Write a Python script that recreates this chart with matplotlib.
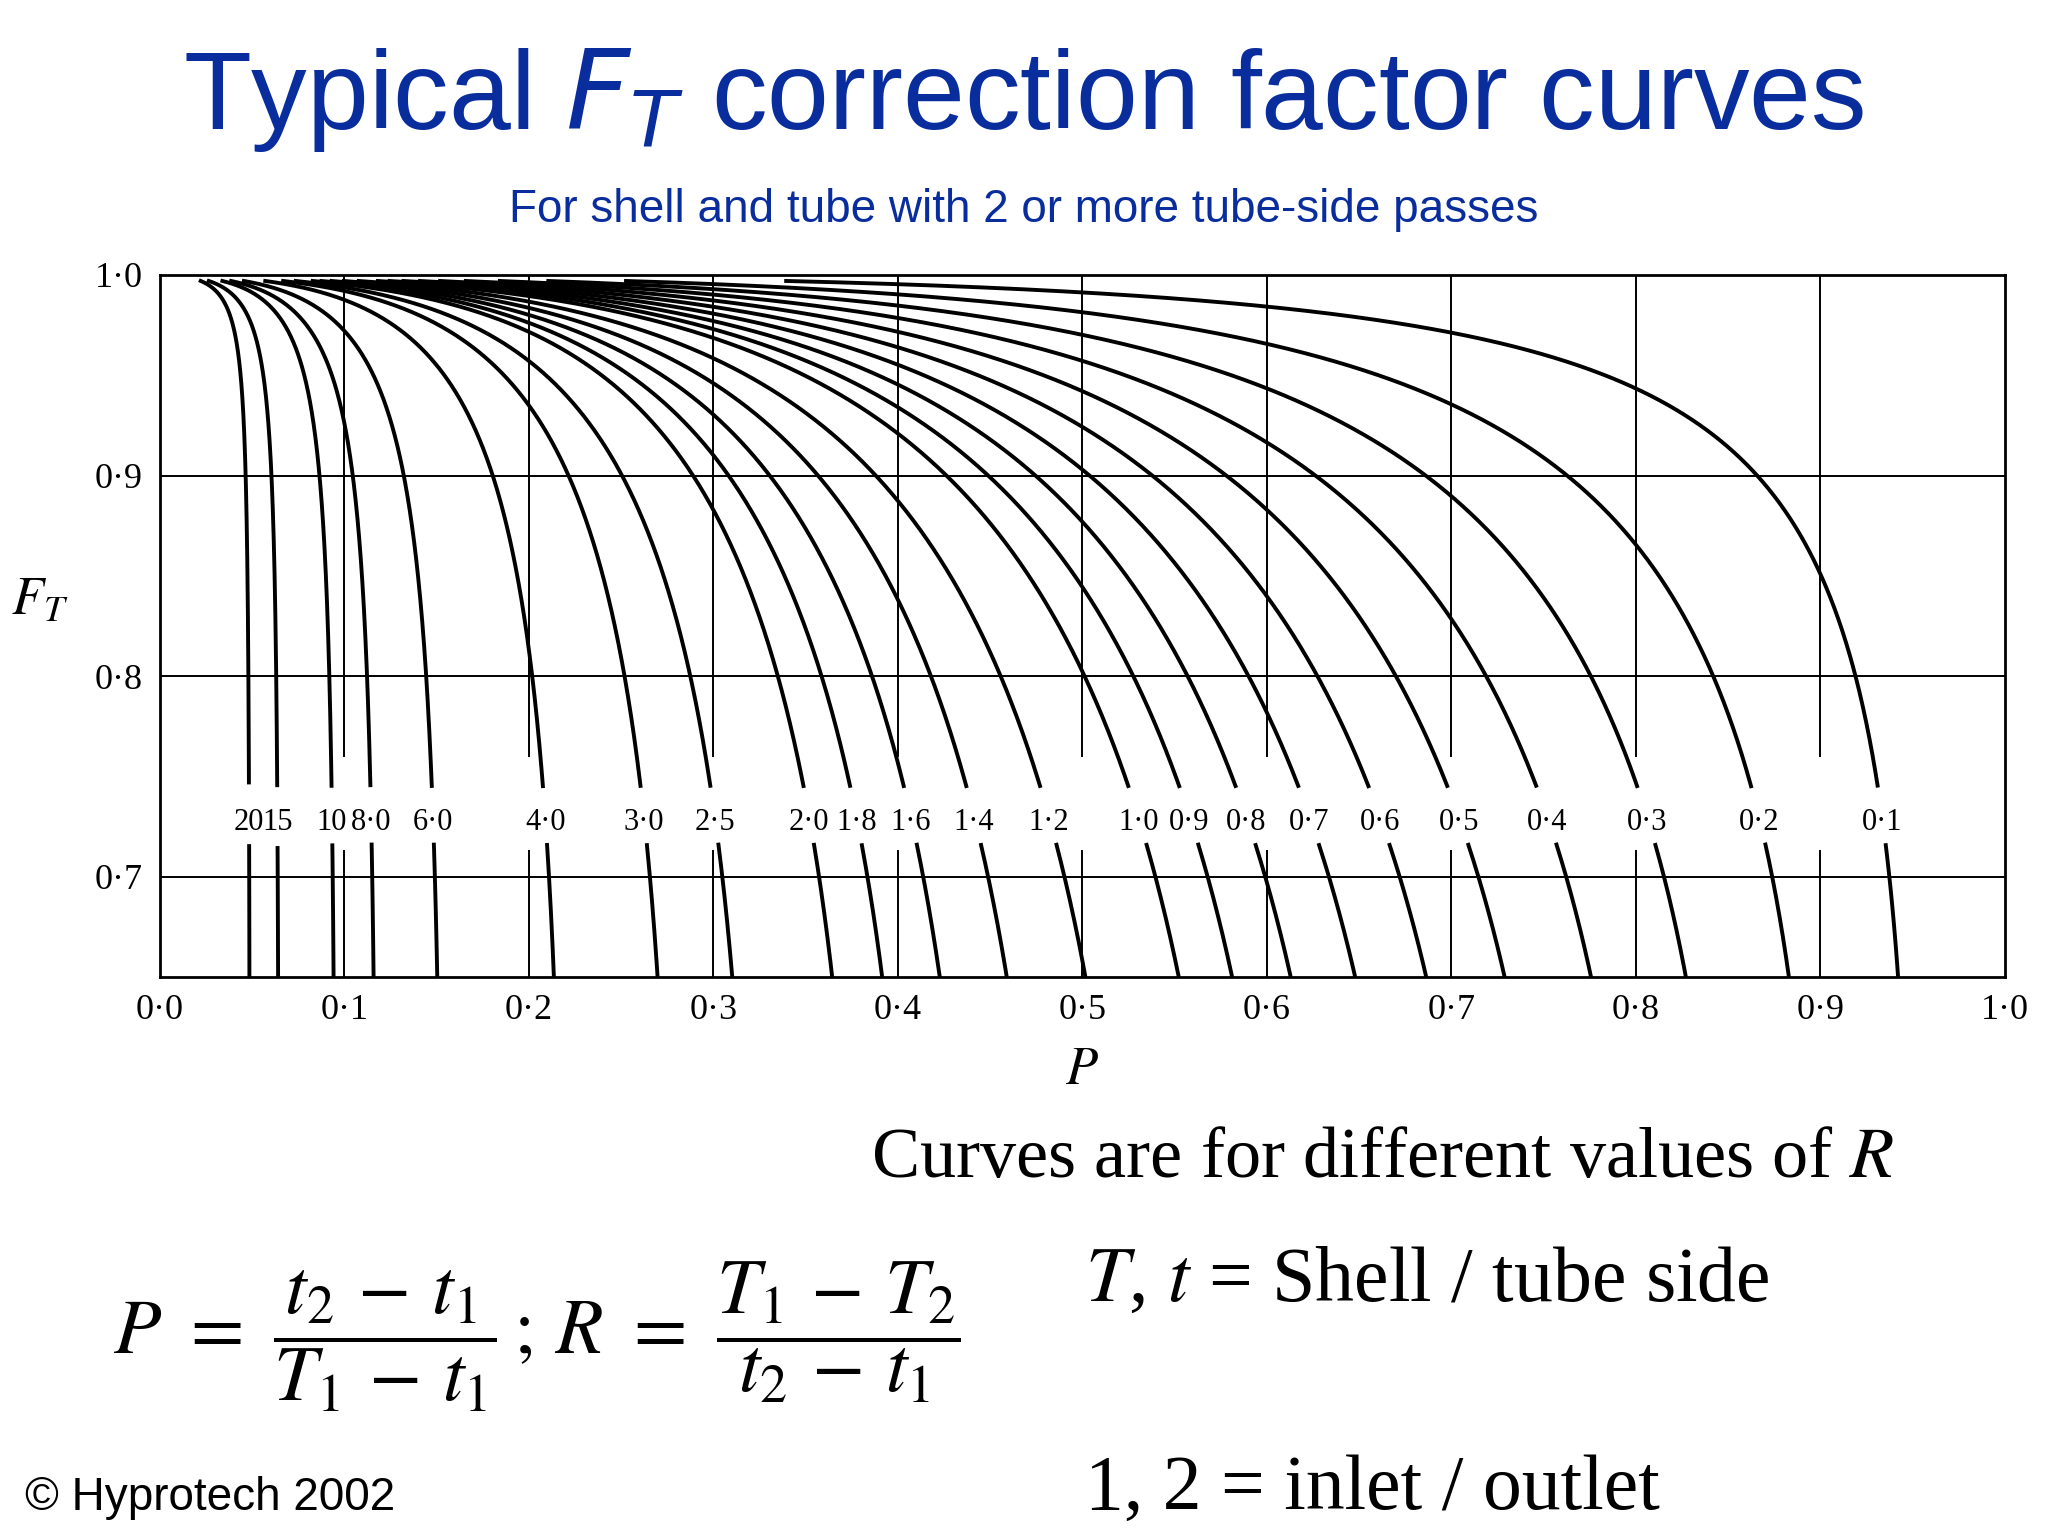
import numpy as np
import matplotlib
matplotlib.use("Agg")
import matplotlib.pyplot as plt

plt.rcParams["mathtext.fontset"] = "stix"

R_values = [20, 15, 10, 8.0, 6.0, 4.0, 3.0, 2.5, 2.0, 1.8, 1.6, 1.4, 1.2, 1.0, 0.9, 0.8, 0.7, 0.6, 0.5, 0.4, 0.3, 0.2, 0.1]
R_labels = ["20", "15", "10", "8·0", "6·0", "4·0", "3·0", "2·5", "2·0", "1·8", "1·6", "1·4", "1·2",
            "1·0", "0·9", "0·8", "0·7", "0·6", "0·5", "0·4", "0·3", "0·2", "0·1"]
x_ticks = [0.0, 0.1, 0.2, 0.3, 0.4, 0.5, 0.6, 0.7, 0.8, 0.9, 1.0]
x_ticklabels = ["0·0", "0·1", "0·2", "0·3", "0·4", "0·5", "0·6", "0·7", "0·8", "0·9", "1·0"]
y_ticks = [0.7, 0.8, 0.9, 1.0]
y_ticklabels = ["0·7", "0·8", "0·9", "1·0"]


def ft(P, R):
    S = np.sqrt(R * R + 1)
    with np.errstate(all="ignore"):
        if abs(R - 1) < 1e-9:
            num = P * S / (1 - P)
        else:
            num = S / (R - 1) * np.log((1 - P) / (1 - P * R))
        den = np.log((2 - P * (R + 1 - S)) / (2 - P * (R + 1 + S)))
        return num / den


fig = plt.figure(figsize=(20.48, 15.36), dpi=100)
ax = fig.add_axes([0.078, 0.364, 0.901, 0.457])
ax.set_xlim(0, 1.0)
ax.set_ylim(0.65, 1.0)
serif = "Liberation Serif"

lab_y = 0.727
for R, lab in zip(R_values, R_labels):
    S = np.sqrt(R * R + 1)
    pmax = 2 / (R + 1 + S)
    P = np.linspace(1e-4, pmax * 0.99999, 6000)
    F = ft(P, R)
    ok = np.isfinite(F)
    P, F = P[ok], F[ok]
    up = (F >= 0.745) & (F <= 0.997)
    lo = (F <= 0.716) & (F >= 0.6)
    ax.plot(P[up], F[up], color="black", lw=2.8)
    ax.plot(P[lo], F[lo], color="black", lw=2.8)
    idx = np.argmin(np.abs(F - 0.73))
    ax.text(P[idx], lab_y, lab, ha="center", va="center", fontsize=22, family=serif)

for x in x_ticks[1:-1]:
    ax.plot([x, x], [1.0, 0.76], color="black", lw=1.4)
    ax.plot([x, x], [0.713, 0.65], color="black", lw=1.4)
for y in [0.7, 0.8, 0.9]:
    ax.axhline(y, color="black", lw=1.4)

for s in ax.spines.values():
    s.set_linewidth(2)
ax.set_xticks(x_ticks)
ax.set_xticklabels(x_ticklabels, family=serif, fontsize=26)
ax.set_yticks(y_ticks)
ax.set_yticklabels(y_ticklabels, family=serif, fontsize=26)
ax.tick_params(length=0, pad=12)
ax.set_xlabel("$P$", fontsize=38, labelpad=12)
ax.set_ylabel("$F_T$", fontsize=38, rotation=0, labelpad=40)

blue = "#0a2d9e"
fig.text(0.5, 0.935, "Typical $F_T$ correction factor curves", ha="center", va="center",
         fontsize=80, color=blue, family="Liberation Sans", math_fontfamily="dejavusans")
fig.text(0.5, 0.863, "For shell and tube with 2 or more tube-side passes", ha="center", va="center",
         fontsize=33, color=blue, family="Liberation Sans")

fig.text(0.675, 0.245, "Curves are for different values of $R$", ha="center", va="center",
         fontsize=52, family=serif)
fig.text(0.055, 0.13, r"$P\ =\ \dfrac{t_2\,-\,t_1}{T_1\,-\,t_1}\,;\,R\ =\ \dfrac{T_1\,-\,T_2}{t_2\,-\,t_1}$",
         ha="left", va="center", fontsize=56)
fig.text(0.53, 0.165, "$T$, $t$ = Shell / tube side", ha="left", va="center", fontsize=56, family=serif)
fig.text(0.53, 0.03, "1, 2 = inlet / outlet", ha="left", va="center", fontsize=56, family=serif)
fig.text(0.012, 0.025, "© Hyprotech 2002", ha="left", va="center", fontsize=33, family="Liberation Sans")

fig.savefig("out.png", dpi=100, facecolor="white")
